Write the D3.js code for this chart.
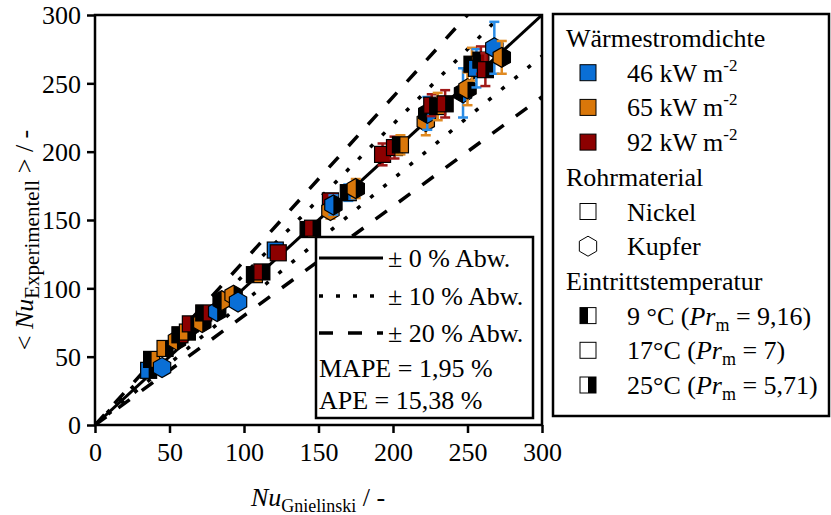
<!DOCTYPE html>
<html><head><meta charset="utf-8">
<script src="https://cdn.jsdelivr.net/npm/d3@7"></script>
<style>
html,body{margin:0;padding:0;background:#fff;}
svg{display:block;}
svg text{font-family:"Liberation Serif","Times New Roman",Tinos,serif;}
</style></head>
<body>
<svg id="chart" width="831" height="515"></svg>
<script>
// ---------- data ----------
const xTicks = [0, 50, 100, 150, 200, 250, 300];
const yTicks = [0, 50, 100, 150, 200, 250, 300];
// Nu (Gnielinski) vs. <Nu> experimental
const nuGnielinski   = [36, 38, 45, 47, 55, 57, 62, 64, 72, 73, 82, 85, 93, 96, 107, 112, 121, 123, 143, 146, 158, 158, 160, 170, 175, 193, 201, 205, 222, 223, 226, 230, 235, 247, 250, 253, 256, 259, 262, 268, 273];
const nuExperimentell= [40, 48, 42, 56, 62, 66, 68, 74, 75, 82, 83, 91, 95, 90, 110, 112, 128, 126, 143, 144, 164, 157, 161, 170, 173, 198, 203, 205, 222, 228, 234, 233, 235, 243, 246, 264, 261, 267, 260, 276, 269];
const errHalf        = [2, 2, 2, 2, 2, 2, 2, 2, 2, 2, 3, 3, 3, 3, 3, 3, 3, 3, 3, 3, 5, 6, 7, 6, 7, 8, 8, 7, 10, 12, 8, 10, 10, 18, 12, 12, 14, 10, 12, 19, 12];
// 0: 46 kW/m2, 1: 65 kW/m2, 2: 92 kW/m2
const fluxIdx        = [0, 1, 0, 1, 1, 2, 1, 2, 1, 2, 0, 1, 1, 0, 1, 2, 0, 2, 1, 2, 2, 1, 0, 0, 1, 2, 2, 1, 1, 0, 2, 1, 2, 0, 1, 1, 0, 2, 2, 0, 1];
// 0: Nickel (square), 1: Kupfer (hexagon)
const materialIdx    = [0, 0, 1, 0, 1, 0, 0, 0, 1, 0, 1, 1, 1, 1, 0, 0, 0, 0, 0, 0, 0, 1, 1, 0, 1, 0, 0, 0, 1, 1, 0, 0, 0, 1, 1, 0, 0, 0, 0, 1, 1];
// 0: 9 °C, 1: 17 °C, 2: 25 °C
const tempIdx        = [2, 0, 1, 2, 2, 0, 2, 2, 2, 0, 2, 0, 2, 1, 0, 2, 1, 1, 0, 2, 1, 1, 2, 0, 2, 1, 2, 0, 1, 0, 1, 0, 2, 0, 2, 0, 1, 0, 2, 1, 2];
const fluxLabels = ["46", "65", "92"];
const deviationFactors = [0, 0.1, 0.2];

// ---------- styles ----------
const FONT = '"Liberation Serif","Times New Roman",Tinos,serif';
const fillColors = ["#0a6fd6", "#d9770a", "#8c0000"];
const errColors  = ["#2a8ce6", "#e08a22", "#a01818"];

const svg = d3.select("#chart");
const x = d3.scaleLinear().domain([0, 300]).range([95, 542]);
const y = d3.scaleLinear().domain([0, 300]).range([425, 15]);
const FS = 26;

svg.append("defs").append("clipPath").attr("id", "plotclip")
  .append("rect").attr("x", x(0)).attr("y", y(300))
  .attr("width", x(300) - x(0)).attr("height", y(0) - y(300));

// axes
const xAxis = svg.append("g").attr("transform", `translate(0,${y(0)})`)
  .call(d3.axisBottom(x).tickValues(xTicks).tickSize(8).tickPadding(6).tickFormat(d3.format("d")));
const yAxis = svg.append("g").attr("transform", `translate(${x(0)},0)`)
  .call(d3.axisLeft(y).tickValues(yTicks).tickSize(8).tickPadding(6).tickFormat(d3.format("d")));
[xAxis, yAxis].forEach(g => {
  g.attr("font-family", FONT);
  g.select(".domain").remove();
  g.selectAll(".tick line").attr("stroke", "#000").attr("stroke-width", 2.5);
  g.selectAll(".tick text").attr("fill", "#000").attr("font-family", FONT).style("font-size", FS + "px");
});
xAxis.selectAll(".tick text").attr("dy", "0.85em");
yAxis.selectAll(".tick text").attr("dy", "0.34em");

// reference lines
const gLines = svg.append("g").attr("clip-path", "url(#plotclip)");
const lineStyles = {0: null, 0.1: "4,13", 0.2: "14,15"};
deviationFactors.forEach(f => {
  const ks = f === 0 ? [1] : [1 + f, 1 - f];
  ks.forEach(k => {
    gLines.append("line")
      .attr("x1", x(0)).attr("y1", y(0))
      .attr("x2", x(300)).attr("y2", y(300 * k))
      .attr("stroke", "#000").attr("stroke-width", f === 0 ? 3 : 3.5)
      .attr("stroke-dasharray", lineStyles[f]);
  });
});

// markers
const S = 8;
const R = 10;
const HW = R * Math.sqrt(3) / 2;
const hexPts = [[0,-R],[HW,-R/2],[HW,R/2],[0,R],[-HW,R/2],[-HW,-R/2]];
const hexLeft = [[0,-R],[-HW,-R/2],[-HW,R/2],[0,R]];
const hexRight = [[0,-R],[HW,-R/2],[HW,R/2],[0,R]];
const pts = p => p.map(q => q.join(",")).join(" ");

function drawMarker(g, mat, temp, fill, sw) {
  if (mat === 0) {
    g.append("rect").attr("x", -S).attr("y", -S).attr("width", 2*S).attr("height", 2*S)
      .attr("fill", fill).attr("stroke", "#000").attr("stroke-width", sw);
    if (temp === 0) g.append("rect").attr("x", -S).attr("y", -S).attr("width", S).attr("height", 2*S).attr("fill", "#000");
    if (temp === 2) g.append("rect").attr("x", 0).attr("y", -S).attr("width", S).attr("height", 2*S).attr("fill", "#000");
  } else {
    g.append("polygon").attr("points", pts(hexPts))
      .attr("fill", fill).attr("stroke", "#000").attr("stroke-width", sw);
    if (temp === 0) g.append("polygon").attr("points", pts(hexLeft)).attr("fill", "#000");
    if (temp === 2) g.append("polygon").attr("points", pts(hexRight)).attr("fill", "#000");
  }
}

const gData = svg.append("g");
nuGnielinski.forEach((xv, i) => {
  const yv = nuExperimentell[i];
  const e = errHalf[i];
  const c = errColors[fluxIdx[i]];
  const g = gData.append("g");
  const px = x(xv);
  g.append("line").attr("x1", px).attr("x2", px).attr("y1", y(yv - e)).attr("y2", y(yv + e))
    .attr("stroke", c).attr("stroke-width", 2.5);
  [yv - e, yv + e].forEach(v => g.append("line").attr("x1", px - 5).attr("x2", px + 5)
    .attr("y1", y(v)).attr("y2", y(v)).attr("stroke", c).attr("stroke-width", 2.5));
  const mg = g.append("g").attr("transform", `translate(${px},${y(yv)})`);
  drawMarker(mg, materialIdx[i], tempIdx[i], fillColors[fluxIdx[i]], 1.2);
});

// frame
svg.append("rect").attr("x", x(0)).attr("y", y(300)).attr("width", x(300) - x(0)).attr("height", y(0) - y(300))
  .attr("fill", "none").attr("stroke", "#000").attr("stroke-width", 2.5);

// text helper
function txt(g, xp, yp, size) {
  return g.append("text").attr("x", xp).attr("y", yp).attr("font-family", FONT).style("font-size", size + "px").attr("fill", "#000");
}

// axis titles
txt(svg, 318, 506, FS).attr("text-anchor", "middle")
  .call(t => {
    t.append("tspan").attr("font-style", "italic").text("Nu");
    t.append("tspan").attr("dy", 6).style("font-size", "18px").text("Gnielinski");
    t.append("tspan").attr("dy", -6).text(" / -");
  });
svg.append("text").attr("transform", "translate(33,240) rotate(-90)").attr("text-anchor", "middle")
  .attr("font-family", FONT).style("font-size", FS + "px")
  .call(t => {
    t.append("tspan").text("< ");
    t.append("tspan").attr("font-style", "italic").text("Nu");
    t.append("tspan").attr("dy", 6).style("font-size", "21px").text("Experimentell");
    t.append("tspan").attr("dy", -6).text(" > / -");
  });

// inner legend
const gIL = svg.append("g");
gIL.append("rect").attr("x", 316).attr("y", 237).attr("width", 217).attr("height", 181)
  .attr("fill", "#fff").attr("stroke", "#000").attr("stroke-width", 2.5);
const ilRows = [258, 296, 333];
deviationFactors.forEach((f, i) => {
  gIL.append("line").attr("x1", 319).attr("x2", 383).attr("y1", ilRows[i]).attr("y2", ilRows[i])
    .attr("stroke", "#000").attr("stroke-width", f === 0 ? 3 : 3.5).attr("stroke-dasharray", lineStyles[f]);
  txt(gIL, 388, ilRows[i] + 9, FS).text(`± ${Math.round(f * 100)} % Abw.`);
});
txt(gIL, 319, 377, FS).text("MAPE = 1,95 %");
txt(gIL, 319, 409, FS).text("APE = 15,38 %");

// right legend
const gL = svg.append("g");
gL.append("rect").attr("x", 553).attr("y", 14).attr("width", 276).attr("height", 402)
  .attr("fill", "#fff").attr("stroke", "#000").attr("stroke-width", 2.5);
const rowY = i => 38 + i * 34.7;
const headX = 566, symX = 588, txtX = 627;
const head = (i, s) => txt(gL, headX, rowY(i) + 9, FS).text(s);
head(0, "Wärmestromdichte");
fluxLabels.forEach((lab, k) => {
  const cy = rowY(1 + k);
  const mg = gL.append("g").attr("transform", `translate(${symX},${cy})`);
  drawMarker(mg, 0, 1, fillColors[k], 1);
  txt(gL, txtX, cy + 9, FS).call(t => {
    t.append("tspan").text(`${lab} kW m`);
    t.append("tspan").attr("dy", -11).style("font-size", "17px").text("-2");
  });
});
head(4, "Rohrmaterial");
["Nickel", "Kupfer"].forEach((lab, k) => {
  const cy = rowY(5 + k);
  const mg = gL.append("g").attr("transform", `translate(${symX},${cy})`);
  drawMarker(mg, k, 1, "#fff", 1);
  txt(gL, txtX, cy + 9, FS).text(lab);
});
head(7, "Eintrittstemperatur");
const tempLabels = [["9 °C (", "9,16)"], ["17°C (", "7)"], ["25°C (", "5,71)"]];
tempLabels.forEach((lab, k) => {
  const cy = rowY(8 + k);
  const mg = gL.append("g").attr("transform", `translate(${symX},${cy})`);
  drawMarker(mg, 0, k, "#fff", 1);
  txt(gL, txtX, cy + 9, FS).call(t => {
    t.append("tspan").text(lab[0]);
    t.append("tspan").attr("font-style", "italic").text("Pr");
    t.append("tspan").attr("dy", 6).style("font-size", "18px").text("m");
    t.append("tspan").attr("dy", -6).text(" = " + lab[1]);
  });
});
</script>
</body></html>
